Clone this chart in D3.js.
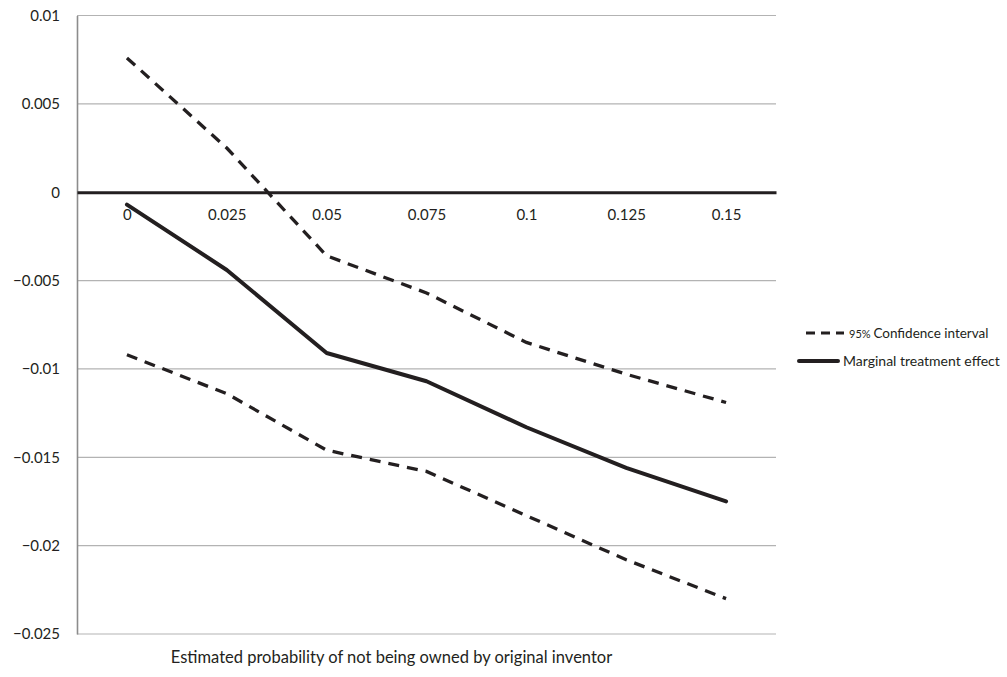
<!DOCTYPE html>
<html>
<head>
<meta charset="utf-8">
<script src="https://cdn.jsdelivr.net/npm/d3@7"></script>
<style>
  html, body { margin: 0; padding: 0; background: #fff; }
  svg { display: block; font-family: "Lato", "Open Sans", sans-serif; }
</style>
</head>
<body>
<svg id="chart" width="1007" height="677"></svg>
<script>
const categories = ["0", "0.025", "0.05", "0.075", "0.1", "0.125", "0.15"];
const upperCI = [0.0076, 0.0025, -0.0036, -0.0057, -0.0085, -0.0103, -0.0119];
const marginal = [-0.0007, -0.0044, -0.0091, -0.0107, -0.0133, -0.0156, -0.0175];
const lowerCI = [-0.0092, -0.0114, -0.0146, -0.0158, -0.0183, -0.0208, -0.0230];
const yTicks = [0.01, 0.005, 0, -0.005, -0.01, -0.015, -0.02, -0.025];
const yTickLabels = ["0.01", "0.005", "0", "\u22120.005", "\u22120.01", "\u22120.015", "\u22120.02", "\u22120.025"];
const xTitle = "Estimated probability of not being owned by original inventor";
const legendCI = "Confidence interval";
const legendCIPrefix = "95%";
const legendME = "Marginal treatment effect";

(function () {
const svg = d3.select("#chart");
const plotLeft = 77, plotRight = 776, plotTop = 15.5, plotBottom = 634;
const ink = "#231f20";

const x = d3.scalePoint().domain(categories).range([plotLeft, plotRight]).padding(0.5);
const y = d3.scaleLinear().domain([-0.025, 0.01]).range([plotBottom, plotTop]);

// gridlines
svg.append("g").selectAll("line").data(yTicks.filter(d => d !== 0)).join("line")
  .attr("x1", plotLeft).attr("x2", plotRight)
  .attr("y1", d => y(d)).attr("y2", d => y(d))
  .attr("stroke", "#b3b3b3").attr("stroke-width", 1.2);

// left axis
const yAxis = d3.axisLeft(y).tickValues(yTicks).tickSize(0).tickPadding(17)
  .tickFormat((d, i) => yTickLabels[i]);
const gy = svg.append("g").attr("transform", `translate(${plotLeft},0)`).call(yAxis);
gy.select(".domain").attr("stroke", "#8c8c8c").attr("stroke-width", 1.6);
gy.selectAll("text").attr("font-size", 15).attr("fill", ink).attr("font-family", "Lato, 'Open Sans', sans-serif");

// x axis at zero
const xAxis = d3.axisBottom(x).tickSize(0).tickPadding(17);
const gx = svg.append("g").attr("transform", `translate(0,${y(0)})`).call(xAxis);
gx.select(".domain").attr("stroke", ink).attr("stroke-width", 3);
gx.selectAll("text").attr("font-size", 15).attr("fill", ink).attr("font-family", "Lato, 'Open Sans', sans-serif");

// lines
const line = d3.line().x((d, i) => x(categories[i])).y(d => y(d));
[upperCI, lowerCI].forEach(s => {
  svg.append("path").datum(s).attr("d", line)
    .attr("fill", "none").attr("stroke", ink).attr("stroke-width", 3.3)
    .attr("stroke-dasharray", "11,8");
});
svg.append("path").datum(marginal).attr("d", line)
  .attr("fill", "none").attr("stroke", ink).attr("stroke-width", 4)
  .attr("stroke-linejoin", "round").attr("stroke-linecap", "round");

// x title
svg.append("text").attr("x", (170 + 613) / 2).attr("y", 663)
  .attr("text-anchor", "middle").attr("font-size", 16.5).attr("fill", ink)
  .text(xTitle);

// legend
const lg = svg.append("g");
const e1 = lg.append("g").attr("transform", "translate(806,333)");
e1.append("line").attr("x1", 0).attr("x2", 38).attr("y1", 0).attr("y2", 0)
  .attr("stroke", ink).attr("stroke-width", 3).attr("stroke-dasharray", "9,6");
const t1 = e1.append("text").attr("x", 43).attr("y", 5).attr("font-size", 13.5).attr("fill", ink);
t1.append("tspan").attr("font-size", 11).text(legendCIPrefix + " ");
t1.append("tspan").text(legendCI);

const e2 = lg.append("g").attr("transform", "translate(799,361)");
e2.append("line").attr("x1", 0).attr("x2", 39).attr("y1", 0).attr("y2", 0)
  .attr("stroke", ink).attr("stroke-width", 4).attr("stroke-linecap", "round");
e2.append("text").attr("x", 44).attr("y", 5).attr("font-size", 14).attr("fill", ink).text(legendME);
})();
</script>
</body>
</html>
